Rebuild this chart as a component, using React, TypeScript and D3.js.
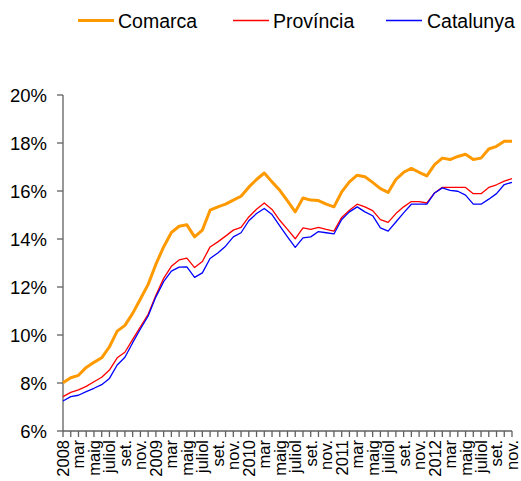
import React from "react";
import * as d3 from "d3";

const months = [
  "2008","febr.","mar","abr.","maig","juny","juliol","ag.","set.","oct.","nov.","des.",
  "2009","febr.","mar","abr.","maig","juny","juliol","ag.","set.","oct.","nov.","des.",
  "2010","febr.","mar","abr.","maig","juny","juliol","ag.","set.","oct.","nov.","des.",
  "2011","febr.","mar","abr.","maig","juny","juliol","ag.","set.","oct.","nov.","des.",
  "2012","febr.","mar","abr.","maig","juny","juliol","ag.","set.","oct.","nov."
];

const comarca = [
  8.01, 8.22, 8.32, 8.65, 8.86, 9.05, 9.51, 10.16, 10.40, 10.90, 11.50, 12.11,
  12.95, 13.67, 14.27, 14.53, 14.59, 14.09, 14.37, 15.20, 15.34, 15.45, 15.62, 15.78,
  16.16, 16.48, 16.75, 16.38, 16.03, 15.59, 15.13, 15.71, 15.62, 15.60, 15.45, 15.34,
  15.96, 16.38, 16.66, 16.59, 16.36, 16.10, 15.94, 16.48, 16.78, 16.94, 16.78, 16.63,
  17.10, 17.37, 17.31, 17.44, 17.53, 17.31, 17.37, 17.75, 17.86, 18.07, 18.07
];

const provincia = [
  7.43, 7.61, 7.71, 7.86, 8.05, 8.24, 8.54, 9.05, 9.28, 9.82, 10.34, 10.86,
  11.66, 12.36, 12.86, 13.13, 13.20, 12.81, 13.06, 13.67, 13.88, 14.12, 14.37, 14.48,
  14.92, 15.24, 15.50, 15.23, 14.78, 14.40, 14.01, 14.46, 14.40, 14.48, 14.40, 14.33,
  14.90, 15.20, 15.45, 15.34, 15.18, 14.81, 14.69, 15.06, 15.34, 15.56, 15.56, 15.50,
  15.92, 16.15, 16.15, 16.15, 16.15, 15.89, 15.89, 16.15, 16.26, 16.41, 16.52
];

const catalunya = [
  7.25, 7.43, 7.49, 7.64, 7.78, 7.93, 8.19, 8.75, 9.07, 9.68, 10.25, 10.79,
  11.59, 12.22, 12.66, 12.83, 12.84, 12.40, 12.59, 13.19, 13.42, 13.70, 14.09, 14.26,
  14.76, 15.06, 15.27, 15.02, 14.55, 14.09, 13.65, 14.05, 14.09, 14.31, 14.26, 14.21,
  14.81, 15.13, 15.34, 15.13, 14.97, 14.46, 14.33, 14.71, 15.09, 15.45, 15.45, 15.45,
  15.92, 16.13, 16.03, 15.99, 15.83, 15.45, 15.45, 15.66, 15.89, 16.27, 16.36
];

const yTicks = [6, 8, 10, 12, 14, 16, 18, 20];

const seriesNames = ["Comarca", "Província", "Catalunya"];
const seriesColors = ["#FF9900", "#FF0000", "#0000FF"];
const seriesWidths = [3, 1.3, 1.3];

export default function App() {
  const width = 521;
  const height = 481;
  const x = d3.scaleLinear().domain([0, months.length - 1]).range([63, 512]);
  const y = d3.scaleLinear().domain([6, 20]).range([431, 95]);
  const data = [comarca, provincia, catalunya];
  const line = d3
    .line<number>()
    .x((_, i) => x(i))
    .y((d) => y(d));
  const font = "'Liberation Sans', Arial, sans-serif";
  const axisColor = "#606060";

  const legendItems = [
    { lx: 78, tx: 118 },
    { lx: 233, tx: 273 },
    { lx: 386, tx: 427 },
  ];

  return (
    <div style={{ position: "absolute", left: 0, top: 0 }}>
      <svg width={width} height={height} style={{ display: "block", background: "#fff" }}>
        {/* legend */}
        {legendItems.map((it, k) => (
          <g key={k}>
            <line
              x1={it.lx}
              x2={it.lx + 36}
              y1={20.5}
              y2={20.5}
              stroke={seriesColors[k]}
              strokeWidth={seriesWidths[k] === 3 ? 3 : 1.5}
            />
            <text x={it.tx} y={20.5} dy="0.36em" fontFamily={font} fontSize={19.5} fill="#000">
              {seriesNames[k]}
            </text>
          </g>
        ))}

        {/* y axis */}
        <line x1={63} x2={63} y1={y(20)} y2={y(6)} stroke={axisColor} strokeWidth={1.3} />
        {yTicks.map((t) => (
          <g key={t}>
            <line x1={57} x2={63} y1={y(t)} y2={y(t)} stroke={axisColor} strokeWidth={1.3} />
            <text
              x={47}
              y={y(t)}
              dy="0.36em"
              textAnchor="end"
              fontFamily={font}
              fontSize={18.5}
              fill="#000"
            >
              {t}%
            </text>
          </g>
        ))}

        {/* x axis */}
        <line x1={63} x2={512} y1={y(6)} y2={y(6)} stroke={axisColor} strokeWidth={1.3} />
        {months.map((m, i) => (
          <g key={i}>
            <line x1={x(i)} x2={x(i)} y1={y(6)} y2={y(6) + 6} stroke={axisColor} strokeWidth={1.3} />
            {i % 2 === 0 && (
              <text
                transform={`translate(${x(i)},440) rotate(-90)`}
                dy="0.36em"
                textAnchor="end"
                fontFamily={font}
                fontSize={16.5}
                fill="#000"
              >
                {m}
              </text>
            )}
          </g>
        ))}

        {/* series */}
        {data.map((s, k) => (
          <path
            key={k}
            d={line(s) || ""}
            fill="none"
            stroke={seriesColors[k]}
            strokeWidth={seriesWidths[k]}
            strokeLinejoin="round"
          />
        ))}
      </svg>
    </div>
  );
}
